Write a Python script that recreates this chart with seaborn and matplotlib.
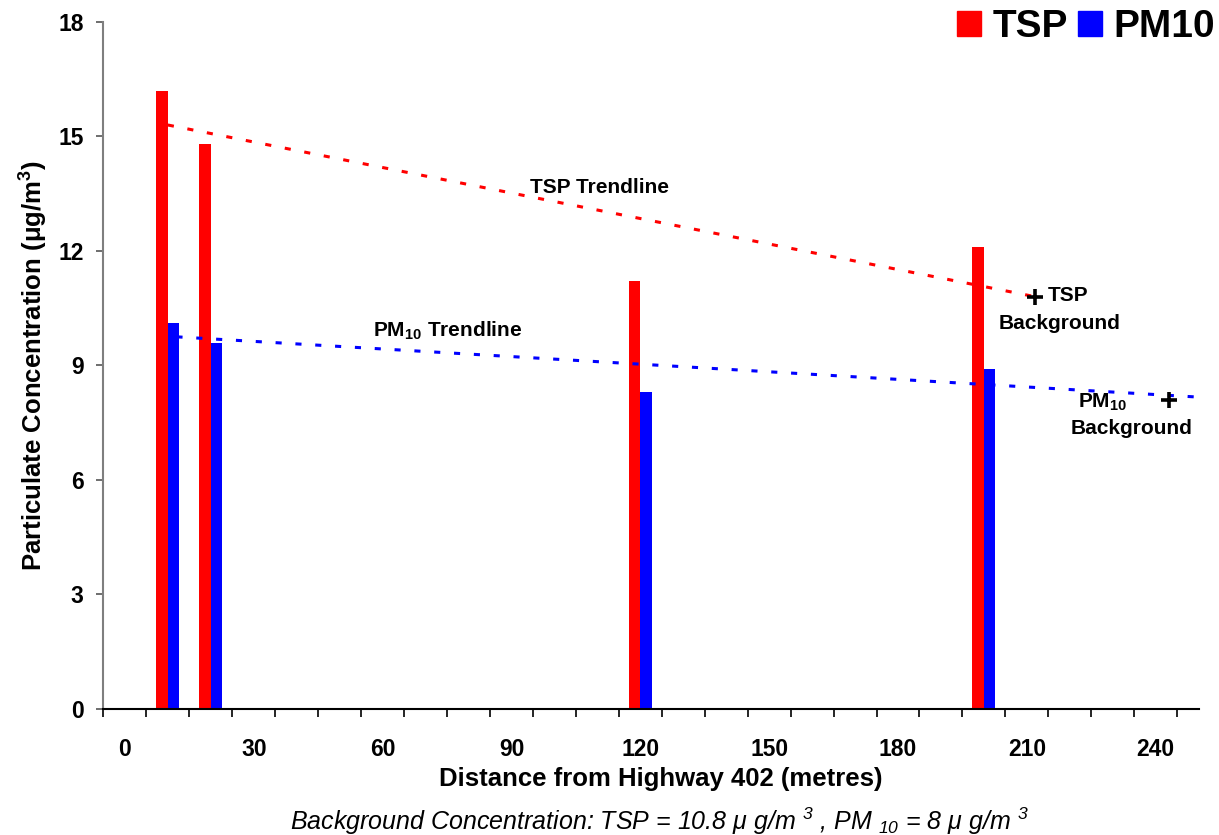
import numpy as np
import pandas as pd
import matplotlib
matplotlib.use("Agg")
import matplotlib.pyplot as plt
from matplotlib.patches import Patch
import seaborn as sns

# measured concentrations at each distance from the highway
distances = [10, 20, 120, 200]
tsp = [16.2, 14.8, 11.2, 12.1]
pm10 = [10.1, 9.6, 8.3, 8.9]

# trendline endpoints (x, y) and background points
tsp_trend_x = [10, 212]
tsp_trend_y = [15.3, 10.8]
pm10_trend_x = [12, 250]
pm10_trend_y = [9.75, 8.17]
tsp_bg = (212, 10.8)
pm10_bg = (243, 8.1)

x_ticks = [0, 30, 60, 90, 120, 150, 180, 210, 240]
y_ticks = [0, 3, 6, 9, 12, 15, 18]

sns.set_style("ticks")
plt.rcParams["font.family"] = ["Liberation Sans", "DejaVu Sans"]
plt.rcParams["mathtext.fontset"] = "custom"
plt.rcParams["mathtext.rm"] = "Liberation Sans:italic"
plt.rcParams["mathtext.it"] = "Liberation Sans:italic"
plt.rcParams["mathtext.bf"] = "Liberation Sans:bold"
for key in ["text.color", "axes.labelcolor", "xtick.labelcolor", "ytick.labelcolor"]:
    plt.rcParams[key] = "black"

df = pd.DataFrame({
    "Distance": distances * 2,
    "Concentration": tsp + pm10,
    "Type": ["TSP"] * len(tsp) + ["PM10"] * len(pm10),
})

fig = plt.figure(figsize=(12.19, 8.35), dpi=100)
ax = fig.add_axes([0.0845, 0.151, 0.8995, 0.8227])

sns.barplot(data=df, x="Distance", y="Concentration", hue="Type",
            native_scale=True, palette={"TSP": "#ff0000", "PM10": "#0000ff"},
            saturation=1, errorbar=None, width=0.54, linewidth=0, ax=ax,
            legend=False)

# trendlines
ax.plot(tsp_trend_x, tsp_trend_y, color="#ff0000", lw=2.2, linestyle=(0, (2, 4.5)))
ax.plot(pm10_trend_x, pm10_trend_y, color="#0000ff", lw=2.2, linestyle=(0, (2, 4.5)))
ax.plot(*tsp_bg, marker="+", color="black", ms=12, mew=2.6)
ax.plot(*pm10_bg, marker="+", color="black", ms=12, mew=2.6)

fs = 15
ax.text(110.6, 13.65, "TSP Trendline", fontsize=fs, fontweight="bold", ha="center", va="center")
ax.text(75.2, 9.9, r"PM$_{\mathbf{10}}$ Trendline", fontsize=fs, fontweight="bold", ha="center", va="center")
ax.text(214.8, 10.82, "TSP", fontsize=fs, fontweight="bold", ha="left", va="center")
ax.text(217.6, 10.09, "Background", fontsize=fs, fontweight="bold", ha="center", va="center")
ax.text(227.6, 8.04, r"PM$_{\mathbf{10}}$", fontsize=fs, fontweight="bold", ha="center", va="center")
ax.text(234.4, 7.36, "Background", fontsize=fs, fontweight="bold", ha="center", va="center")

ax.set_xlim(-5.1, 250.2)
ax.set_ylim(0, 18)
ax.set_xticks(x_ticks)
ax.set_xticklabels([str(v) for v in x_ticks], fontweight="bold", fontsize=16.5)
ax.set_xticks(np.arange(-5, 250, 10), minor=True)
ax.tick_params(axis="x", which="major", length=0, pad=21)
ax.tick_params(axis="x", which="minor", length=6, width=1.2, direction="out", color="black")
ax.set_yticks(y_ticks)
ax.set_yticklabels([str(v) for v in y_ticks], fontweight="bold", fontsize=16.5)
ax.tick_params(axis="y", length=5, width=1.2, color="#555555", pad=9)

sns.despine(ax=ax)
ax.spines["left"].set_color("#7f7f7f")
ax.spines["left"].set_linewidth(1.5)
ax.spines["bottom"].set_color("black")
ax.spines["bottom"].set_linewidth(1.5)

ax.set_xlabel("Distance from Highway 402 (metres)", fontsize=18.5, fontweight="bold")
ax.xaxis.set_label_coords(0.509, -0.085)
ax.set_ylabel(r"Particulate Concentration ($\mathbf{\mu}$g/m$^{\mathbf{3}}$)", fontsize=18.5,
              fontweight="bold", labelpad=6)

fig.text(0.541, -0.002,
         r"Background Concentration: TSP = 10.8 $\mu$ g/m $^{3}$ , PM $_{10}$ = 8 $\mu$ g/m $^{3}$",
         fontsize=18, fontstyle="italic", ha="center", va="bottom")

handles = [Patch(color="#ff0000", label="TSP"), Patch(color="#0000ff", label="PM10")]
fig.legend(handles=handles, loc="upper right", bbox_to_anchor=(1.013, 1.012), ncol=2,
           frameon=False, prop={"size": 28, "weight": "bold"}, handlelength=0.62,
           handleheight=0.62, handletextpad=0.3, columnspacing=0.25, borderaxespad=0.1)

fig.savefig("out.png", dpi=100)
